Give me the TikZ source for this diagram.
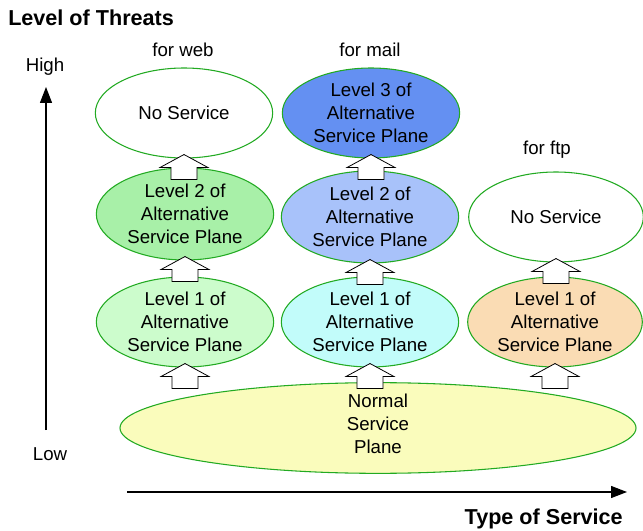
\documentclass[tikz,border=0pt]{standalone}
\usepackage{fontspec}
\setmainfont{Liberation Sans}
\usetikzlibrary{shapes.geometric,arrows.meta}
\definecolor{rim}{HTML}{22AA22}
\definecolor{webtwo}{HTML}{A8F0A8}
\definecolor{webone}{HTML}{CCFCCC}
\definecolor{mailthree}{HTML}{6490F2}
\definecolor{mailtwo}{HTML}{A8C2FA}
\definecolor{mailone}{HTML}{C2FCFA}
\definecolor{ftpone}{HTML}{FADCB4}
\definecolor{normal}{HTML}{FAFCBC}
\tikzset{
  plane/.style={ellipse, draw=rim, line width=0.8pt, inner sep=0pt, align=center,
    minimum width=133pt, minimum height=67.5pt,
    font=\fontsize{14}{17.25}\selectfont},
  label/.style={font=\fontsize{14}{17}\selectfont, inner sep=0pt},
  heading/.style={font=\fontsize{16.2}{19}\selectfont\bfseries, inner sep=0pt},
  blockarr/.style={draw=black, fill=white, line width=0.6pt, line join=miter},
  axis/.style={line width=1pt, -{Stealth[length=12pt,width=9pt,inset=0pt]}}
}
% hollow up-arrow whose tip sits just above the lower edge of the upper plane
\newcommand\blockup[2]{%
  \draw[blockarr] ([yshift=3pt]#2.south) -- ++(24,13) -- ++(-11,0) -- ++(0,12)
    -- ++(-26,0) -- ++(0,-12) -- ++(-11,0) -- cycle;}
\begin{document}
\begin{tikzpicture}[x=0.75pt,y=-0.75pt]
\useasboundingbox (0,0) rectangle (643,531);

% headings and axes
\node[heading, anchor=west] (threat) at (8,18) {Level of Threats};
\node[heading, anchor=east] (type) at (623,519) {Type of Service};
\node[label] (high) at (45,67) {High};
\node[label] (low) at (50,454) {Low};
\coordinate (vbot) at (46,430);
\coordinate (vtop) at (46,87);
\coordinate (hleft) at (127,492);
\coordinate (hright) at (627,492);
\draw[axis] (vbot) -- (vtop);
\draw[axis] (hleft) -- (hright);

% column titles
\node[label] (web) at (183,50) {for web};
\node[label] (mail) at (370,50) {for mail};
\node[label] (ftp) at (547,150) {for ftp};

% service planes
\node[plane, fill=normal, minimum width=387pt, minimum height=68pt] (norm) at (378,428) {};
\node[plane, draw=none, fill=none, minimum width=0pt, minimum height=0pt] (normtext)
  at ([yshift=3pt]norm.center) {Normal\\Service\\Plane};
\node[plane, fill=white] (webns) at (184,113) {No Service};
\node[plane, fill=webtwo, minimum height=69pt] (webtw) at (185,214)
  {Level 2 of\\Alternative\\Service Plane};
\node[plane, fill=webone] (webon) at (185,322)
  {Level 1 of\\Alternative\\Service Plane};
\node[plane, fill=mailthree] (mailth) at (371,113)
  {Level 3 of\\Alternative\\Service Plane};
\node[plane, fill=mailtwo, minimum height=69pt] (mailtw) at (370,217)
  {Level 2 of\\Alternative\\Service Plane};
\node[plane, fill=mailone] (mailon) at (370,322)
  {Level 1 of\\Alternative\\Service Plane};
\node[plane, fill=white, minimum width=131pt] (ftpns) at (556,217) {No Service};
\node[plane, fill=ftpone, minimum width=131pt] (ftpon) at (555,322)
  {Level 1 of\\Alternative\\Service Plane};

% escalation arrows
\blockup{webtw}{webns}
\blockup{webon}{webtw}
\blockup{norm}{webon}
\blockup{mailtw}{mailth}
\blockup{mailon}{mailtw}
\blockup{norm}{mailon}
\blockup{ftpon}{ftpns}
\blockup{norm}{ftpon}
\end{tikzpicture}
\end{document}
